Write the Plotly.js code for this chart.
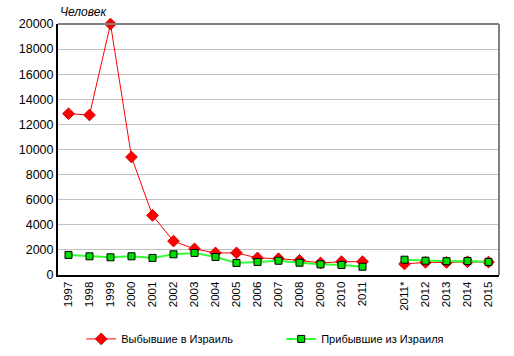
<!DOCTYPE html>
<html><head><meta charset="utf-8">
<script src="https://cdn.plot.ly/plotly-3.0.1.min.js"></script>
<style>body{margin:0;background:#fff}#c{width:514px;height:356px}</style>
</head><body><div id="c"></div>
<script>
var categories = ['1997','1998','1999','2000','2001','2002','2003','2004','2005','2006','2007','2008','2009','2010','2011','','2011*','2012','2013','2014','2015'];
var departed = [12850,12750,20000,9400,4750,2700,2080,1760,1760,1360,1300,1170,960,1060,1060,null,880,1010,1000,1050,1030];
var arrived  = [1600,1490,1410,1490,1360,1650,1760,1440,960,1040,1140,980,850,800,660,null,1220,1140,1100,1120,1040];
var seriesNames = ['Выбывшие в Израиль','Прибывшие из Израиля'];
var yTitle = 'Человек';

var idx = categories.map(function(_, i){ return i; });
var ff = 'Liberation Sans, Arial, sans-serif';

var traces = [
  {x: idx, y: departed, name: seriesNames[0], type:'scatter', mode:'lines+markers',
   line:{color:'#ff0000', width:1}, connectgaps:false, cliponaxis:false,
   marker:{symbol:'diamond', size:9, color:'#ff0000', line:{color:'#cc0000', width:1}}},
  {x: idx, y: arrived, name: seriesNames[1], type:'scatter', mode:'lines+markers',
   line:{color:'#33ff33', width:2}, connectgaps:false, cliponaxis:false,
   marker:{symbol:'square', size:7, color:'#00dd00', line:{color:'#000000', width:1}}}
];

var layout = {
  width:514, height:356,
  margin:{l:58, r:15, t:24, b:81},
  paper_bgcolor:'#fff', plot_bgcolor:'#fff',
  font:{family:ff, size:12, color:'#000'},
  showlegend:true,
  legend:{orientation:'h', xref:'container', yref:'container', x:0.158, xanchor:'left', y:0.048, yanchor:'middle',
          font:{family:ff, size:11, color:'#000'},
          entrywidth:155, entrywidthmode:'pixels', bgcolor:'rgba(0,0,0,0)'},
  xaxis:{range:[-0.5, 20.5], tickmode:'array', tickvals:idx, ticktext:categories,
         tickangle:-90, showgrid:false, zeroline:false, automargin:false,
         showline:true, linecolor:'#000', linewidth:2,
         ticks:'', tickfont:{family:ff, size:11.5, color:'#000'}},
  yaxis:{range:[0, 20000], dtick:2000, tickformat:'d', showgrid:true, gridcolor:'#c0c0c0', gridwidth:1,
         zeroline:false, showline:true, linecolor:'#000', linewidth:2, ticks:'', automargin:false,
         tickfont:{family:ff, size:12.5, color:'#000'}},
  shapes:[
    {type:'line', xref:'paper', yref:'paper', x0:0, x1:1, y0:1, y1:1, line:{color:'#808080', width:2}},
    {type:'line', xref:'paper', yref:'paper', x0:1, x1:1, y0:0, y1:1, line:{color:'#808080', width:2}}
  ],
  annotations:[
    {text: yTitle, xref:'paper', yref:'paper', x:0, y:1, xanchor:'left', yanchor:'bottom', yshift:3,
     showarrow:false, font:{family:ff, size:12, color:'#000', style:'italic'}}
  ]
};
Plotly.newPlot('c', traces, layout, {displayModeBar:false, staticPlot:true});
</script></body></html>
